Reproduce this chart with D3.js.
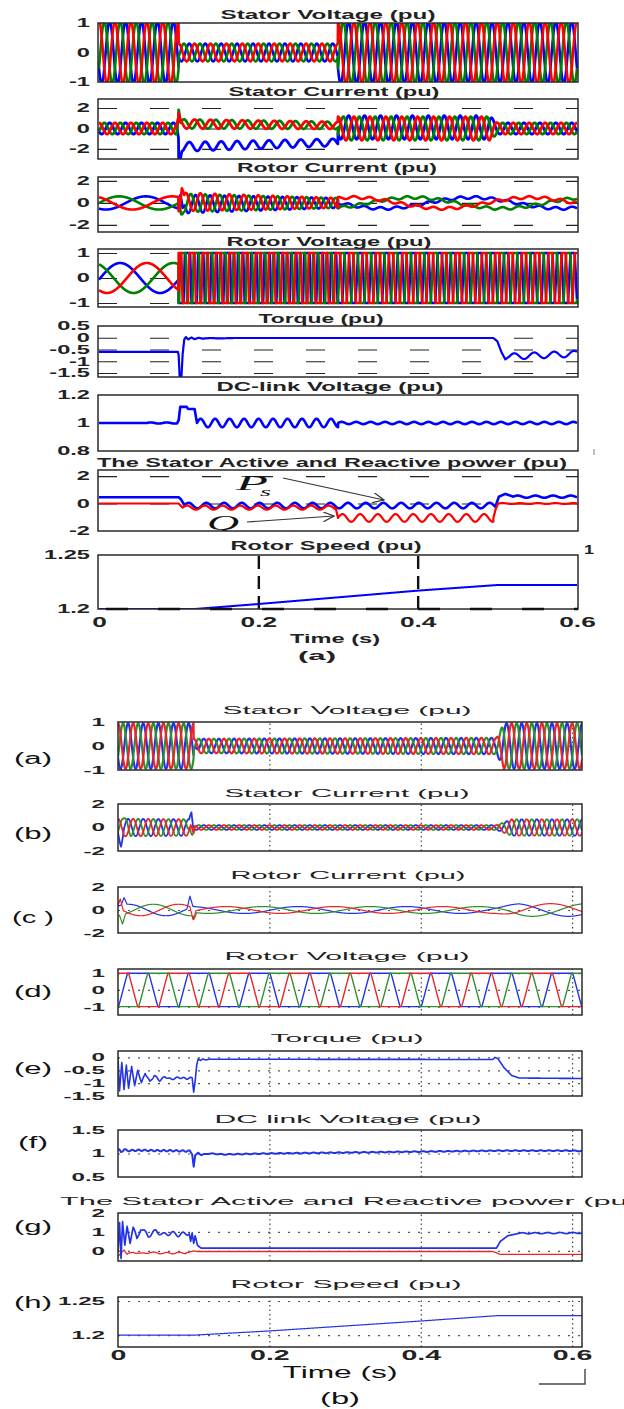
<!DOCTYPE html>
<html>
<head>
<meta charset="utf-8">
<script src="https://cdn.jsdelivr.net/npm/d3@7"></script>
<style>
  body { margin: 0; background: #fff; }
  svg { display: block; }
</style>
</head>
<body>
<script>
// ---------- values ----------
const timeTicks = [0, 0.2, 0.4, 0.6];
const zero = [0, 0, 0];

const titlesA = ["Stator Voltage (pu)", "Stator Current (pu)", "Rotor Current (pu)", "Rotor Voltage (pu)",
  "Torque (pu)", "DC-link Voltage (pu)", "The Stator Active and Reactive power (pu)", "Rotor Speed (pu)"];
const titlesB = ["Stator Voltage (pu)", "Stator Current (pu)", "Rotor Current (pu)", "Rotor Voltage (pu)",
  "Torque (pu)", "DC link Voltage (pu)", "The Stator Active and Reactive power (pu)", "Rotor Speed (pu)"];
const lettersB = ["(a)", "(b)", "(c )", "(d)", "(e)", "(f)", "(g)", "(h)"];

const yTicksA = [[-1, 0, 1], [-2, 0, 2], [-2, 0, 2], [-1, 0, 1], [-1.5, -1, -0.5, 0, 0.5], [0.8, 1, 1.2], [-2, 0, 2], [1.2, 1.25]];
const yDomainA = [[-1, 1], [-2.98, 2.88], [-2.64, 2.36], [-1.16, 1.16], [-1.67, 0.5], [0.8, 1.2], [-2, 2.44], [1.2, 1.25]];
const yTicksB = [[-1, 0, 1], [-2, 0, 2], [-2, 0, 2], [-1, 0, 1], [-1.5, -1, -0.5, 0], [0.5, 1, 1.5], [0, 1, 2], [1.2, 1.25]];
const yDomainB = [[-1, 1], [-2, 2], [-2, 2], [-1.5, 1.25], [-1.5, 0.25], [0.5, 1.5], [-0.53, 2], [1.1824, 1.2559]];

// three-phase segments: [t0, t1, amp0, amp1, freq Hz, phase deg, offsets at t0 (r,g,b), offsets at t1 (r,g,b)]
const statorVoltageA = [
  [0, 0.1, 1.06, 1.06, 50, 0, zero, zero],
  [0.1, 0.3, 0.3, 0.3, 50, 0, zero, zero],
  [0.3, 0.6, 1.06, 1.06, 50, 0, zero, zero]
];
const statorCurrentA = [
  [0, 0.1, 0.55, 0.55, 50, 0, zero, zero],
  [0.1, 0.3, 0.45, 0.35, 50, 0, [0.45, 0.45, -1.8], [0.3, 0.3, -1.35]],
  [0.3, 0.49, 1.15, 1.15, 50, 0, [0, 0, 0.1], [0, 0, 0.1]],
  [0.49, 0.5, 1.15, 0.55, 50, 0, [0, 0, 0.1], zero],
  [0.5, 0.6, 0.55, 0.55, 50, 0, zero, zero]
];
const rotorCurrentA = [
  [0, 0.1, 0.6, 0.6, 10, 29, zero, zero],
  [0.1, 0.3, 0.85, 0.45, 55, 0, [0.1, 0, -0.1], zero],
  [0.3, 0.6, 0.5, 0.5, 4.5, 202, zero, zero],
  [0.3, 0.6, 0.12, 0.12, 50, 0, zero, zero]
];
const rotorVoltageA = [
  [0, 0.1, 0.6, 0.6, 10, 144, zero, zero],
  [0.1, 0.3, 3, 3, 60, 0, zero, zero],
  [0.3, 0.6, 1.7, 1.7, 60, 0, zero, zero]
];
const statorVoltageB = [
  [0, 0.1, 0.95, 0.95, 50, 0, zero, zero],
  [0.1, 0.5, 0.3, 0.34, 50, 0, zero, zero],
  [0.5, 0.51, 0.34, 0.95, 50, 0, zero, zero],
  [0.51, 0.613, 0.95, 0.95, 50, 0, zero, zero]
];
const statorCurrentB = [
  [0, 0.1, 0.75, 0.7, 50, 0, zero, zero],
  [0.1, 0.5, 0.2, 0.2, 50, 0, zero, zero],
  [0.5, 0.52, 0.2, 0.7, 50, 0, zero, zero],
  [0.52, 0.613, 0.7, 0.7, 50, 0, zero, zero]
];
const rotorCurrentB = [
  [0, 0.1, 0.5, 0.5, -10, 288, zero, zero],
  [0.1, 0.5, 0.3, 0.3, 7, 0, zero, zero],
  [0.5, 0.53, 0.3, 0.55, 7, 0, zero, zero],
  [0.53, 0.613, 0.55, 0.55, 7, 0, zero, zero]
];
const rotorVoltageB = [
  [0, 0.613, 2.2, 2.2, -12.5, 0, zero, zero]
];

// spikes: [phase (0 red, 1 green, 2 blue), t, height, half width]
const statorCurrentSpikesA = [[1, 0.1, 1.6, 0.0025], [2, 0.101, -1.2, 0.003], [0, 0.1, 0.6, 0.002]];
const rotorCurrentSpikesA = [[0, 0.104, 1.4, 0.003], [2, 0.105, -1.0, 0.003], [1, 0.103, -0.6, 0.003]];
const statorVoltageSpikesB = [[2, 0.103, 0.25, 0.004]];
const statorCurrentSpikesB = [[2, 0.004, -0.9, 0.004], [1, 0.012, 0.6, 0.005], [2, 0.097, 1.0, 0.003],
  [0, 0.099, -1.0, 0.003], [1, 0.095, 0.5, 0.003]];
const rotorCurrentSpikesB = [[0, 0.003, 0.9, 0.004], [1, 0.006, -0.8, 0.004], [2, 0.008, 0.6, 0.004],
  [2, 0.095, 1.0, 0.004], [0, 0.099, -1.0, 0.004], [1, 0.101, -0.5, 0.003]];
const saturation = 1;

// single curves: [t, value]; ripples: [t0, t1, amp, freq Hz]
const torqueA = [[0, -0.6], [0.099, -0.6], [0.1, -0.75], [0.1012, -1.65], [0.1035, -1.65], [0.105, -0.7], [0.107, -0.08],
  [0.109, 0.03], [0.112, -0.07], [0.116, 0.01], [0.12, -0.06], [0.125, 0], [0.13, -0.04], [0.14, -0.01], [0.15, -0.03],
  [0.17, -0.01], [0.495, -0.01], [0.5, -0.15], [0.505, -0.6], [0.51, -0.92], [0.515, -0.8], [0.6, -0.68]];
const torqueRippleA = [[0.515, 0.6, 0.13, 40]];
const dcLinkA = [[0, 1], [0.098, 1.0], [0.1, 1.02], [0.102, 1.115], [0.11, 1.115], [0.112, 1.1], [0.12, 1.1], [0.123, 1.0], [0.6, 1.0]];
const dcLinkRippleA = [[0.06, 0.1, 0.004, 50], [0.123, 0.3, 0.03, 55], [0.3, 0.6, 0.008, 55]];
const powerPA = [[0, 0.46], [0.1, 0.46], [0.103, 0.3], [0.107, -0.1], [0.11, -0.15], [0.498, -0.15], [0.502, 0.5],
  [0.51, 0.7], [0.52, 0.5], [0.6, 0.5]];
const powerPRippleA = [[0.107, 0.498, 0.2, 45], [0.52, 0.6, 0.08, 45]];
const powerQA = [[0, 0], [0.1, 0], [0.105, -0.3], [0.297, -0.3], [0.3, -1.05], [0.495, -1.05], [0.498, -0.4], [0.501, 0], [0.6, 0]];
const powerQRippleA = [[0.105, 0.297, 0.15, 45], [0.3, 0.495, 0.28, 45], [0.501, 0.6, 0.03, 45]];
const speedA = [[0, 1.2], [0.12, 1.2], [0.2, 1.2046], [0.4, 1.217], [0.5, 1.2222], [0.6, 1.2222]];

const torqueB = [[0, 0], [0.002, -1.3], [0.005, -0.2], [0.008, -1.25], [0.011, -0.3], [0.014, -1.2], [0.018, -0.35],
  [0.022, -1.1], [0.026, -0.5], [0.031, -1.0], [0.036, -0.6], [0.042, -0.95], [0.048, -0.7], [0.055, -0.9],
  [0.062, -0.75], [0.07, -0.85], [0.08, -0.78], [0.09, -0.82], [0.098, -0.8], [0.1, -1.35], [0.102, -0.9],
  [0.104, -0.3], [0.106, -0.05], [0.109, -0.12], [0.112, -0.06], [0.116, -0.1], [0.12, -0.07], [0.495, -0.08],
  [0.498, 0.0], [0.502, -0.05], [0.51, -0.4], [0.52, -0.7], [0.53, -0.8], [0.613, -0.82]];
const torqueRippleB = [[0.03, 0.098, 0.03, 110]];
const dcLinkB = [[0, 1.1], [0.004, 1.03], [0.008, 1.09], [0.012, 1.06], [0.03, 1.07], [0.05, 1.06], [0.07, 1.06],
  [0.095, 1.05], [0.098, 1.0], [0.1, 0.72], [0.102, 0.95], [0.106, 1.02], [0.11, 0.97], [0.12, 1.0], [0.14, 0.98],
  [0.2, 1.0], [0.3, 1.02], [0.4, 1.04], [0.5, 1.06], [0.6, 1.06], [0.613, 1.05]];
const dcLinkRippleB = [[0, 0.1, 0.015, 120], [0.1, 0.613, 0.008, 90]];
const powerPB = [[0, 0], [0.002, 1.5], [0.004, -0.4], [0.006, 1.55], [0.009, 0.3], [0.012, 1.3], [0.016, 0.4],
  [0.02, 1.25], [0.025, 0.6], [0.03, 1.2], [0.04, 0.8], [0.05, 1.05], [0.06, 0.85], [0.07, 0.95], [0.08, 0.85],
  [0.094, 0.95], [0.096, 0.5], [0.098, 0.95], [0.1, 0.4], [0.102, 0.8], [0.105, 0.3], [0.108, 0.2], [0.11, 0.15],
  [0.5, 0.15], [0.505, 0.5], [0.515, 0.8], [0.53, 0.93], [0.613, 0.95]];
const powerPRippleB = [[0.02, 0.094, 0.1, 80], [0.53, 0.613, 0.03, 60]];
const powerQB = [[0, -0.3], [0.004, -0.1], [0.008, 0.05], [0.012, -0.2], [0.02, -0.05], [0.03, -0.15], [0.04, -0.08],
  [0.06, -0.12], [0.09, -0.1], [0.1, 0.0], [0.105, -0.03], [0.495, -0.03], [0.5, -0.1], [0.505, -0.18], [0.613, -0.18]];
const powerQRippleB = [[0.01, 0.09, 0.04, 60]];
const speedB = [[0, 1.2], [0.1, 1.1998], [0.2, 1.206], [0.4, 1.2206], [0.5, 1.2284], [0.613, 1.2284]];

// ---------- page layout ----------
const W = 624, H = 1409;
const dt = 0.0002;

const figA = {
  id: "a", x0: 98, x1: 578, range: [99, 577], tMax: 0.6,
  boxes: [[23, 82], [99, 159], [177, 232], [249, 307], [326, 377], [395, 451], [470, 531], [555, 609]],
  titleY: [19, 96, 172, 246, 323, 391, 467, 550],
  titleX: [328, 334, 337, 329, 321, 330, 332, 326],
  titleW: [215, 211, 200, 205, 125, 227, 470, 191],
  titleSize: 12.5, titleWeight: "bold",
  tickRight: 90, tickSize: 12, tickSx: 1.97,
  xTickY: 627, xTickSize: 15, xTickSx: 1.75
};
const figB = {
  id: "b", x0: 118, x1: 582, range: [118, 582], tMax: 0.613,
  boxes: [[722, 770], [804, 851], [887, 933], [969, 1015], [1051, 1096], [1130, 1177], [1213, 1261], [1297, 1347]],
  titleY: [714, 797, 879, 960, 1042, 1123, 1205, 1288],
  titleX: [347, 347, 348, 347, 347, 348, 60, 346],
  titleW: [249, 245, 235, 245, 153, 267, 578, 231],
  titleSize: 11.5, titleWeight: "normal",
  letterY: [764, 839, 923, 997, 1074, 1148, 1232, 1308],
  letterW: [38, 38, 42, 38, 38, 30, 38, 38],
  letterX: [14, 14, 12, 14, 14, 18, 14, 14],
  tickRight: 105, tickSize: 10.5, tickSx: 2.3,
  xTickY: 1360, xTickSize: 15, xTickSx: 1.9
};

const colorsA = ["#ff0000", "#008000", "#0000ff"];
const colorsB = ["#e8262a", "#2f8f2f", "#2233e6"];
const font = "'Liberation Sans', Arial, sans-serif";
const serif = "'Liberation Serif', 'Times New Roman', serif";

const svg = d3.select("body").append("svg").attr("width", W).attr("height", H);
const defs = svg.append("defs");
defs.append("marker").attr("id", "arrow").attr("viewBox", "0 0 12 10").attr("refX", 11).attr("refY", 5)
  .attr("markerWidth", 12).attr("markerHeight", 10).attr("markerUnits", "userSpaceOnUse").attr("orient", "auto")
  .append("path").attr("d", "M0,0 L11,5 L0,10").attr("fill", "none").attr("stroke", "#333").attr("stroke-width", 1.2);

function inSeg(t, t0, t1, tEnd, last) {
  return t >= t0 - 1e-9 && (t < t1 - 1e-9 || (last && t1 >= tEnd - 1e-9));
}

function phaseSeries(segs, spikes, k, tEnd, limit) {
  const n = Math.round(tEnd / dt);
  const pts = [];
  for (let i = 0; i <= n; i++) {
    const t = i * dt;
    let v = 0;
    segs.forEach(s => {
      const [t0, t1, a0, a1, f, ph, o0, o1] = s;
      if (!inSeg(t, t0, t1, tEnd, i === n)) return;
      const u = (t - t0) / (t1 - t0);
      const amp = a0 + (a1 - a0) * u;
      const off = o0[k] + (o1[k] - o0[k]) * u;
      v += off + amp * Math.cos(2 * Math.PI * f * t + ph * Math.PI / 180 - k * 2 * Math.PI / 3);
    });
    (spikes || []).forEach(([p, ts, h, w]) => {
      if (p === k) v += h * Math.max(0, 1 - Math.abs(t - ts) / w);
    });
    if (limit) v = Math.max(-limit, Math.min(limit, v));
    pts.push([t, v]);
  }
  return pts;
}

function curveSeries(points, ripples, tEnd) {
  const base = d3.scaleLinear().domain(points.map(p => p[0])).range(points.map(p => p[1])).clamp(true);
  const n = Math.round(tEnd / dt);
  const times = d3.range(n + 1).map(i => i * dt).concat(points.map(p => p[0])).sort((a, b) => a - b);
  return times.map(t => {
    let v = base(t);
    (ripples || []).forEach(([t0, t1, a, f]) => {
      if (t >= t0 && t <= t1) v += a * Math.sin(2 * Math.PI * f * (t - t0));
    });
    return [t, v];
  });
}

function threePhaseLines(segs, spikes, fig, colors, width, limit) {
  return [2, 1, 0].map(k => ({ pts: phaseSeries(segs, spikes, k, fig.tMax, limit), color: colors[k], width: width }));
}

function label(g, str, x, y, opt) {
  const t = g.append("text").attr("x", x).attr("y", y).text(str)
    .attr("font-family", opt.family || font).attr("font-size", opt.size)
    .attr("font-weight", opt.weight || "normal").attr("fill", opt.fill || "#111")
    .attr("text-anchor", opt.anchor || "start");
  if (opt.len) t.attr("textLength", opt.len).attr("lengthAdjust", "spacingAndGlyphs");
  if (opt.italic) t.attr("font-style", "italic");
  return t;
}

function drawPanel(fig, i, yDomain, yTicks, title, series, style) {
  const [top, bottom] = fig.boxes[i];
  const x = d3.scaleLinear().domain([0, fig.tMax]).range(fig.range);
  const y = d3.scaleLinear().domain(yDomain).range([bottom, top]);
  const g = svg.append("g");
  const clipId = "clip-" + fig.id + i;
  defs.append("clipPath").attr("id", clipId).append("rect")
    .attr("x", fig.x0).attr("y", top).attr("width", fig.x1 - fig.x0).attr("height", bottom - top);

  // grid lines
  const inner = yTicks.filter(v => y(v) > top + 1.5 && y(v) < bottom - 1.5);
  if (style.hGrid) {
    g.append("g").attr("transform", `translate(${fig.x0},0)`)
      .call(d3.axisLeft(y).tickValues(inner).tickSize(-(fig.x1 - fig.x0)).tickFormat(""))
      .call(a => a.select(".domain").remove())
      .call(a => a.selectAll("line").attr("stroke", style.hGrid.color).attr("stroke-width", style.hGrid.width)
        .attr("stroke-dasharray", style.hGrid.dash));
  }
  if (style.vGrid) {
    g.append("g").attr("transform", `translate(0,${bottom})`)
      .call(d3.axisBottom(x).tickValues(style.vGrid.ticks).tickSize(-(bottom - top)).tickFormat(""))
      .call(a => a.select(".domain").remove())
      .call(a => a.selectAll("line").attr("stroke", style.vGrid.color).attr("stroke-width", style.vGrid.width)
        .attr("stroke-dasharray", style.vGrid.dash));
  }

  const plot = g.append("g").attr("clip-path", `url(#${clipId})`);
  const line = d3.line().x(d => x(d[0])).y(d => y(d[1]));
  series.forEach(s => plot.append("path").datum(s.pts).attr("d", line).attr("fill", "none")
    .attr("stroke", s.color).attr("stroke-width", s.width).attr("stroke-linejoin", "round"));

  g.append("rect").attr("x", fig.x0).attr("y", top).attr("width", fig.x1 - fig.x0).attr("height", bottom - top)
    .attr("fill", "none").attr("stroke", "#2a2a2a").attr("stroke-width", 1.5);

  // y tick labels
  const gap = fig.x0 - fig.tickRight;
  g.append("g").attr("transform", `translate(${fig.x0},0)`)
    .call(d3.axisLeft(y).tickValues(yTicks).tickSize(0).tickPadding(0).tickFormat(d => String(d)))
    .call(a => a.select(".domain").remove())
    .call(a => a.selectAll("text").attr("x", -gap / fig.tickSx).attr("transform", `scale(${fig.tickSx},1)`)
      .attr("font-family", font).attr("font-size", fig.tickSize).attr("font-weight", "bold").attr("fill", "#222"));

  // title
  label(g, title, fig.titleX[i], fig.titleY[i], {
    size: fig.titleSize, weight: fig.titleWeight, len: fig.titleW[i],
    anchor: fig.id === "b" && i === 6 ? "start" : "middle", fill: "#222"
  });
  return { g, x, y, plot, top, bottom };
}

function drawTimeAxis(p, fig) {
  p.g.append("g").attr("transform", `translate(0,${p.bottom})`)
    .call(d3.axisBottom(p.x).tickValues(timeTicks).tickSize(0).tickFormat(d => String(d)))
    .call(a => a.select(".domain").remove())
    .call(a => a.selectAll("text").attr("y", fig.xTickY - p.bottom).attr("dy", 0)
      .attr("transform", `scale(${fig.xTickSx},1)`)
      .attr("font-family", font).attr("font-size", fig.xTickSize).attr("font-weight", "bold").attr("fill", "#222"));
}

// ---------- figure (a) ----------
const dashA = { color: "#222", width: 1.2, dash: "19,33" };
const panelsA = [
  threePhaseLines(statorVoltageA, [], figA, colorsA, 2.6),
  threePhaseLines(statorCurrentA, statorCurrentSpikesA, figA, colorsA, 2.8),
  threePhaseLines(rotorCurrentA, rotorCurrentSpikesA, figA, colorsA, 2.6),
  threePhaseLines(rotorVoltageA, [], figA, colorsA, 2.6, saturation),
  [{ pts: curveSeries(torqueA, torqueRippleA, 0.6), color: colorsA[2], width: 2.2 }],
  [{ pts: curveSeries(dcLinkA, dcLinkRippleA, 0.6), color: colorsA[2], width: 2.6 }],
  [{ pts: curveSeries(powerPA, powerPRippleA, 0.6), color: colorsA[2], width: 2.6 },
   { pts: curveSeries(powerQA, powerQRippleA, 0.6), color: colorsA[0], width: 2.2 }],
  [{ pts: curveSeries(speedA, [], 0.6), color: colorsA[2], width: 2 }]
];
const gridA = [null, dashA, dashA, dashA, dashA, null, dashA, null];
const pA = panelsA.map((s, i) => drawPanel(figA, i, yDomainA[i], yTicksA[i], titlesA[i], s, {
  hGrid: gridA[i],
  vGrid: i === 7 ? { ticks: [0.2, 0.4], color: "#111", width: 2.4, dash: "13,7" } : null
}));

// rotor speed: heavy dashes along the 1.2 line
pA[7].g.append("line").attr("x1", figA.x0).attr("x2", figA.x1).attr("y1", pA[7].y(1.2)).attr("y2", pA[7].y(1.2))
  .attr("stroke", "#111").attr("stroke-width", 2.6).attr("stroke-dasharray", "22,30").attr("stroke-dashoffset", -8);
drawTimeAxis(pA[7], figA);
label(svg, "Time (s)", 335, 643, { size: 12.5, weight: "bold", len: 90, anchor: "middle", fill: "#222" });
label(svg, "(a)", 317, 660, { size: 13.5, weight: "bold", len: 38, anchor: "middle", fill: "#222" });
label(svg, "1", 584, 554, { size: 12, weight: "bold", len: 10, fill: "#222" });
svg.append("line").attr("x1", 594).attr("x2", 594).attr("y1", 449).attr("y2", 455).attr("stroke", "#aaa").attr("stroke-width", 1.5);

// P_s / Q_s annotations, clipped to the power axes
const ann = pA[6].plot;
label(ann, "P", 236, 490, { family: serif, size: 20, italic: true, len: 32, fill: "#111" });
label(ann, "s", 260, 496, { family: serif, size: 12, italic: true, len: 11, fill: "#111" });
label(ann, "Q", 207, 530, { family: serif, size: 22, italic: true, len: 32, fill: "#111" });
label(ann, "s", 240, 538, { family: serif, size: 13, italic: true, len: 12, fill: "#111" });
ann.append("line").attr("x1", 283).attr("y1", 478).attr("x2", 384).attr("y2", 500)
  .attr("stroke", "#333").attr("stroke-width", 1.2).attr("marker-end", "url(#arrow)");
ann.append("line").attr("x1", 247).attr("y1", 522).attr("x2", 334).attr("y2", 516)
  .attr("stroke", "#333").attr("stroke-width", 1.2).attr("marker-end", "url(#arrow)");

// ---------- figure (b) ----------
const dotH = { color: "#555", width: 1.2, dash: "2,8" };
const dotV = { ticks: [0.2, 0.4, 0.6], color: "#333", width: 1.1, dash: "1.5,3" };
const panelsB = [
  threePhaseLines(statorVoltageB, statorVoltageSpikesB, figB, colorsB, 2.2),
  threePhaseLines(statorCurrentB, statorCurrentSpikesB, figB, colorsB, 1.8),
  threePhaseLines(rotorCurrentB, rotorCurrentSpikesB, figB, colorsB, 1.2),
  threePhaseLines(rotorVoltageB, [], figB, colorsB, 1.4, saturation),
  [{ pts: curveSeries(torqueB, torqueRippleB, 0.613), color: colorsB[2], width: 1.6 }],
  [{ pts: curveSeries(dcLinkB, dcLinkRippleB, 0.613), color: colorsB[2], width: 2 }],
  [{ pts: curveSeries(powerQB, powerQRippleB, 0.613), color: colorsB[0], width: 1.3 },
   { pts: curveSeries(powerPB, powerPRippleB, 0.613), color: colorsB[2], width: 1.7 }],
  [{ pts: curveSeries(speedB, [], 0.613), color: colorsB[2], width: 1.2 }]
];
const pB = panelsB.map((s, i) => drawPanel(figB, i, yDomainB[i], yTicksB[i], titlesB[i], s, { hGrid: dotH, vGrid: dotV }));
lettersB.forEach((l, i) => label(svg, l, figB.letterX[i], figB.letterY[i], { size: 16, len: figB.letterW[i], fill: "#111" }));
drawTimeAxis(pB[7], figB);
label(svg, "Time (s)", 340, 1378, { size: 16, len: 115, anchor: "middle", fill: "#111" });
label(svg, "(b)", 340, 1404, { size: 16, len: 40, anchor: "middle", fill: "#111" });
svg.append("path").attr("d", "M539,1384 H585 V1369").attr("fill", "none").attr("stroke", "#444").attr("stroke-width", 1.4);
</script>
</body>
</html>
